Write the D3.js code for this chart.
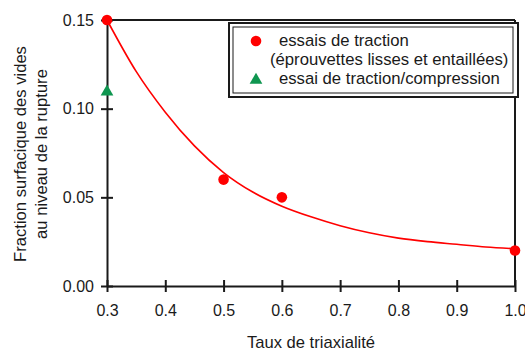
<!DOCTYPE html>
<html><head><meta charset="utf-8">
<script src="https://cdn.jsdelivr.net/npm/d3@7"></script>
<style>
html,body{margin:0;padding:0;background:#fff;}
svg{display:block;font-family:"Liberation Sans",Arial,sans-serif;}
</style></head>
<body><svg id="c" width="525" height="351"></svg>
<script>
const xTicks = [0.3,0.4,0.5,0.6,0.7,0.8,0.9,1.0];
const xTickLabels = ["0.3","0.4","0.5","0.6","0.7","0.8","0.9","1.0"];
const yTicks = [0.00,0.05,0.10,0.15];
const yTickLabels = ["0.00","0.05","0.10","0.15"];
const tractionX = [0.3,0.5,0.6,1.0];
const tractionY = [0.150,0.060,0.050,0.020];
const compX = [0.3];
const compY = [0.110];
const fitX = [0.30,0.35,0.40,0.45,0.50,0.55,0.60,0.65,0.70,0.75,0.80,0.85,0.90,0.95,1.00];
const fitY = [0.150,0.121,0.098,0.079,0.064,0.053,0.045,0.039,0.034,0.030,0.027,0.025,0.0235,0.022,0.021];
const legendLabels = ["essais de traction","(éprouvettes lisses et entaillées)","essai de traction/compression"];
const xTitle = "Taux de triaxialité";
const yTitle = ["Fraction surfacique des vides","au niveau de la rupture"];

const svg = d3.select("#c");
const x = d3.scaleLinear().domain([0.3,1.0]).range([107,515]);
const y = d3.scaleLinear().domain([0,0.15]).range([286,20]);
const ink = "#1a1a1a";

// frame top & right
svg.append("line").attr("x1",x(0.3)).attr("x2",x(1.0)).attr("y1",y(0.15)).attr("y2",y(0.15)).attr("stroke",ink).attr("stroke-width",2);
svg.append("line").attr("x1",x(1.0)).attr("x2",x(1.0)).attr("y1",y(0.15)).attr("y2",y(0)).attr("stroke",ink).attr("stroke-width",2);

// axes
const xAxis = d3.axisBottom(x).tickValues(xTicks).tickFormat((d,i)=>xTickLabels[i]).tickSizeInner(6).tickSizeOuter(0).tickPadding(13);
const gx = svg.append("g").attr("transform",`translate(0,${y(0)})`).call(xAxis);
gx.select(".domain").attr("stroke",ink).attr("stroke-width",2);
gx.selectAll(".tick line").attr("stroke",ink).attr("stroke-width",2).attr("y1",-6).attr("y2",6);
gx.selectAll(".tick text").attr("font-size",16).attr("fill",ink).attr("font-family","Liberation Sans, Arial, sans-serif");

const yAxis = d3.axisLeft(y).tickValues(yTicks).tickFormat((d,i)=>yTickLabels[i]).tickSizeInner(6).tickSizeOuter(0).tickPadding(7);
const gy = svg.append("g").attr("transform",`translate(${x(0.3)},0)`).call(yAxis);
gy.select(".domain").attr("stroke",ink).attr("stroke-width",2);
gy.selectAll(".tick line").attr("stroke",ink).attr("stroke-width",2).attr("x1",-6).attr("x2",6);
gy.selectAll(".tick text").attr("font-size",16).attr("fill",ink).attr("font-family","Liberation Sans, Arial, sans-serif");

// fit curve
const fit = fitX.map((v,i)=>[v,fitY[i]]);
svg.append("path").datum(fit)
  .attr("d",d3.line().x(d=>x(d[0])).y(d=>y(d[1])).curve(d3.curveMonotoneX))
  .attr("fill","none").attr("stroke","#ff0000").attr("stroke-width",1.6);

// points
svg.selectAll("circle.t").data(tractionX.map((v,i)=>[v,tractionY[i]])).enter()
  .append("circle").attr("class","t").attr("cx",d=>x(d[0])).attr("cy",d=>y(d[1])).attr("r",5.3).attr("fill","#ff0000");
const tri = d3.symbol().type(d3.symbolTriangle).size(70);
svg.selectAll("path.c").data(compX.map((v,i)=>[v,compY[i]])).enter()
  .append("path").attr("class","c").attr("d",tri).attr("transform",d=>`translate(${x(d[0])},${y(d[1])+1})`).attr("fill","#0f9650");

// legend
svg.append("rect").attr("x",229).attr("y",23).attr("width",289).attr("height",74).attr("fill","#fff").attr("stroke",ink).attr("stroke-width",2);
svg.append("rect").attr("x",233).attr("y",27).attr("width",280).attr("height",66).attr("fill","none").attr("stroke",ink).attr("stroke-width",1);
svg.append("circle").attr("cx",256).attr("cy",41).attr("r",5.3).attr("fill","#ff0000");
svg.append("path").attr("d",tri).attr("transform","translate(256,80)").attr("fill","#0f9650");
const lx = [279,270,279], ly = [46,65,84];
legendLabels.forEach((t,i)=>{
  svg.append("text").attr("x",lx[i]).attr("y",ly[i]).attr("font-size",16.7).attr("fill",ink).text(t);
});

// titles
svg.append("text").attr("x",311).attr("y",348).attr("text-anchor","middle").attr("font-size",16.6).attr("fill",ink).text(xTitle);
const yt = svg.append("g").attr("transform","translate(0,154) rotate(-90)");
yTitle.forEach((t,i)=>{
  yt.append("text").attr("x",0).attr("y",26+i*20.5).attr("text-anchor","middle").attr("font-size",16.6).attr("fill",ink).text(t);
});
</script></body></html>
